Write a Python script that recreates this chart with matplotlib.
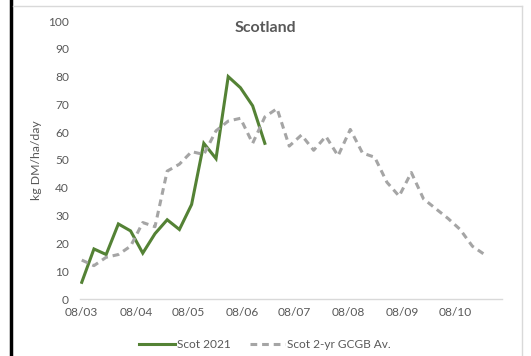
import numpy as np
import pandas as pd
import matplotlib
matplotlib.use("Agg")
import matplotlib.pyplot as plt
import matplotlib.dates as mdates
from matplotlib.lines import Line2D

plt.rcParams['font.family'] = ['Lato', 'DejaVu Sans']

# weekly values, starting 8 March 2021
scot_2021 = [6, 18, 16, 27, 24.5, 16.5, 23.5, 28.5, 25, 34, 56, 50.5, 80, 76, 69.5, 56]
scot_avg = [14, 12, 15, 16, 19, 27.5, 26, 46, 48.5, 53, 52, 60.5, 64, 65, 56, 65.5,
            68.5, 55, 59, 53.5, 58.5, 51.5, 61, 52.5, 51, 42, 37, 45.5, 36, 32.5,
            29, 25, 19, 16]
start = "2021-03-08"
dates_2021 = pd.date_range(start, periods=len(scot_2021), freq="7D")
dates_avg = pd.date_range(start, periods=len(scot_avg), freq="7D")
tick_dates = pd.date_range(start, periods=8, freq=pd.DateOffset(months=1))

green = "#548235"
grey = "#A5A5A5"
dash = (0, (2.2, 1.6))

fig = plt.figure(figsize=(5.31, 3.56), dpi=100)
ax = fig.add_axes([80/531, 1-299/356, 422/531, 278/356])

ax.plot(dates_2021, scot_2021, color=green, lw=2.2, solid_joinstyle="miter")
ax.plot(dates_avg, scot_avg, color=grey, lw=2.2, ls=dash)

ax.set_ylim(0, 100)
ax.set_yticks(range(0, 101, 10))
ax.set_xlim(pd.Timestamp("2021-03-07"), pd.Timestamp("2021-11-04"))
ax.set_xticks(tick_dates)
ax.xaxis.set_major_formatter(mdates.DateFormatter("%d/%m"))
ax.tick_params(length=0, labelsize=8.6, colors="#595959")
ax.tick_params(axis="y", pad=8)
ax.tick_params(axis="x", pad=6)
for s in ["top", "right", "left"]:
    ax.spines[s].set_visible(False)
ax.spines["bottom"].set_color("#D9D9D9")
ax.spines["bottom"].set_linewidth(1)

fig.text(265/531, 1-28/356, "Scotland", ha="center", va="center",
         fontsize=11.5, fontweight="bold", color="#595959")
fig.text(36/531, 1-160/356, "kg DM/ha/day", rotation=90, ha="center",
         va="center", fontsize=8.8, color="#595959")

handles = [Line2D([], [], color=green, lw=2.2),
           Line2D([], [], color=grey, lw=2.2, ls=dash)]
fig.legend(handles, ["Scot 2021", "Scot 2-yr GCGB Av."], loc="center",
           bbox_to_anchor=(265/531, 1-345/356), ncol=2, frameon=False,
           fontsize=8.6, labelcolor="#595959", handlelength=3.0,
           handletextpad=0.15, columnspacing=1.6)

# frame edges of the pasted chart
fig.add_artist(Line2D([11/531, 11/531], [0, 1], color="black", lw=2.5))
fig.add_artist(Line2D([13/531, 522/531], [1-6/356, 1-6/356], color="#D9D9D9", lw=1))
fig.add_artist(Line2D([522/531, 522/531], [0, 1-6/356], color="#D9D9D9", lw=1))

fig.savefig("out.png", dpi=100)
